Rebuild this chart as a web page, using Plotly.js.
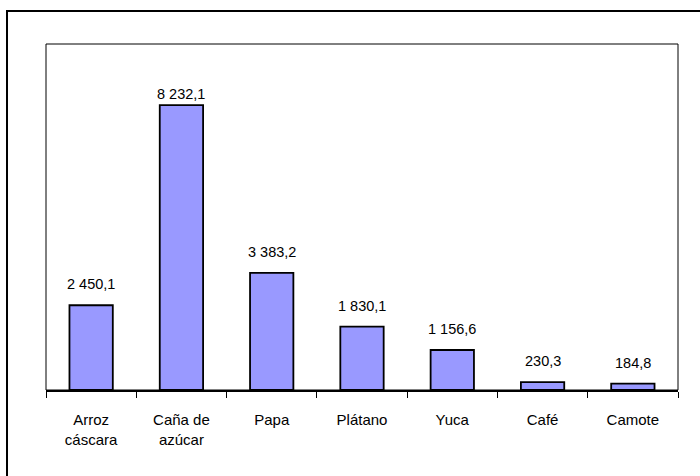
<!DOCTYPE html>
<html>
<head>
<meta charset="utf-8">
<script src="https://cdn.plot.ly/plotly-3.0.1.min.js"></script>
<style>
html,body{margin:0;padding:0;background:#fff;}
#chart{width:700px;height:476px;}
</style>
</head>
<body>
<div id="chart"></div>
<script>
const categories = ["Arroz<br>cáscara", "Caña de<br>azúcar", "Papa", "Plátano", "Yuca", "Café", "Camote"];
const values = [2450.1, 8232.1, 3383.2, 1830.1, 1156.6, 230.3, 184.8];
const valueLabels = ["2 450,1", "8 232,1", "3 383,2", "1 830,1", "1 156,6", "230,3", "184,8"];

const family = "Liberation Sans, Arial, sans-serif";
const tickFont = {family: family, size: 15, color: "#000"};
const labelFont = {family: family, size: 14.5, color: "#000"};

const trace = {
  type: "bar",
  x: categories,
  y: values,
  marker: {color: "#9999FF", line: {color: "#000", width: 1.8}},
  hoverinfo: "none"
};

// value labels above bars; the tallest bar's label sits closer to its bar (as in the original)
const maxVal = Math.max(...values);
const annotations = categories.map((c, i) => ({
  x: c,
  y: values[i],
  xref: "x",
  yref: "y",
  text: valueLabels[i],
  showarrow: false,
  yanchor: "bottom",
  yshift: values[i] === maxVal ? 1 : 11,
  font: labelFont
}));

const layout = {
  width: 700,
  height: 476,
  margin: {l: 46, r: 22, t: 44, b: 86, pad: 0},
  paper_bgcolor: "#fff",
  plot_bgcolor: "#fff",
  font: tickFont,
  showlegend: false,
  bargap: 0.52,
  xaxis: {
    type: "category",
    showline: true,
    linecolor: "#000",
    linewidth: 2,
    ticks: "outside",
    tickson: "boundaries",
    ticklen: 6,
    tickwidth: 1,
    tickcolor: "#000",
    ticklabelstandoff: 15,
    showgrid: false,
    zeroline: false,
    tickfont: tickFont
  },
  yaxis: {
    range: [0, 10000],
    showline: false,
    showticklabels: false,
    ticks: "",
    showgrid: false,
    zeroline: false
  },
  annotations: annotations,
  shapes: [
    {type: "rect", xref: "paper", yref: "paper", x0: 0, x1: 1, y0: 0, y1: 1,
     line: {color: "#000", width: 1}, layer: "below"},
    {type: "rect", xref: "paper", yref: "paper", x0: -0.0617, x1: 1.08, y0: -0.3, y1: 1.0954,
     line: {color: "#000", width: 2}}
  ]
};

Plotly.newPlot("chart", [trace], layout, {displayModeBar: false, staticPlot: true});
</script>
</body>
</html>
